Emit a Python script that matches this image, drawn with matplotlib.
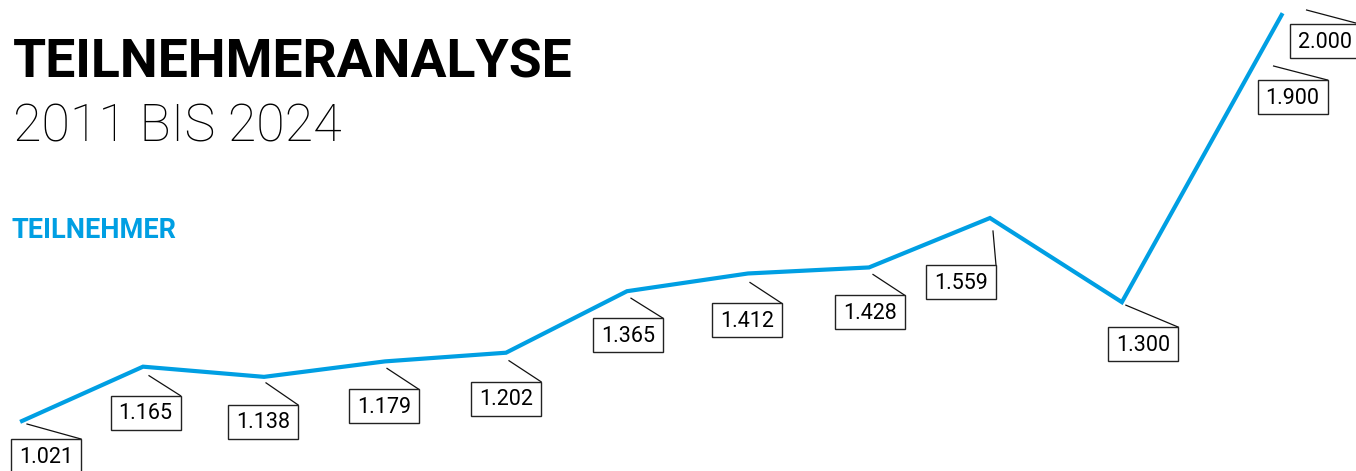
import matplotlib
matplotlib.use("Agg")
import matplotlib.pyplot as plt
import matplotlib.transforms as mtransforms
from matplotlib.patches import Rectangle

# data
x_pos = [0, 1, 2, 3, 4, 5, 6, 7, 8, 9.09, 10.41]
line_values = [1021, 1165, 1138, 1179, 1202, 1365, 1412, 1428, 1559, 1336, 2097]
label_texts = ["1.021", "1.165", "1.138", "1.179", "1.202", "1.365", "1.412",
               "1.428", "1.559", "1.300", "1.900", "2.000"]
label_point = [0, 1, 2, 3, 4, 5, 6, 7, 8, 9, 10, 10]

# label layout: leader start and box centre, pixel offsets from the point
leader_start = [(5, -3), (6, -9), (2, -6), (2, -7), (3, -8), (4, -7), (2, -9),
                (4, -7), (3, -13), (4, -3), (-8, -51), (25, 5)]
box_centre = [(24, -35), (2.5, -46), (-1, -45), (-1, -45), (0, -46), (1, -44),
              (-1, -47), (1, -45), (-29, -64), (21.5, -42), (11, -82), (43, -26)]
box_w, box_h = 70, 34

blue = "#009fe3"
W, H = 1356, 471

fig = plt.figure(figsize=(W / 100, H / 100), dpi=100)
ax = fig.add_axes([0, 0, 1, 1])
ax.set_xlim(-0.182, 11.025)
ax.set_ylim(888.5, 2136.8)
ax.axis("off")

ax.plot(x_pos, line_values, color=blue, lw=3, solid_joinstyle="miter", zorder=3)

ident = mtransforms.IdentityTransform()
for txt, idx, (lx, ly), (bx, by) in zip(label_texts, label_point, leader_start, box_centre):
    px, py = ax.transData.transform((x_pos[idx], line_values[idx]))
    cx, cy = px + bx, py + by
    ax.plot([px + lx, cx + box_w / 2], [py + ly, cy + box_h / 2],
            color="#111111", lw=0.9, transform=ident, zorder=2)
    ax.add_patch(Rectangle((cx - box_w / 2, cy - box_h / 2), box_w, box_h,
                           transform=ident, fc="white", ec="#222222", lw=1.0, zorder=4))
    ax.text(cx, cy - 1, txt, transform=ident, ha="center", va="center",
            fontsize=15.5, family="Roboto", fontweight="normal", color="black", zorder=5)

# titles
fig.text(13 / W, 1 - 78 / H, "TEILNEHMERANALYSE", fontsize=38.5, family="Roboto",
         fontweight="bold", color="black", va="baseline", ha="left")
fig.text(13 / W, 1 - 142 / H, "2011 BIS 2024", fontsize=37.5, family="Roboto",
         fontweight="light", color="black", va="baseline", ha="left")
fig.text(11 / W, 1 - 238 / H, "TEILNEHMER", fontsize=19.5, family="Roboto",
         fontweight="bold", color=blue, va="baseline", ha="left")

fig.savefig("out.png", dpi=100)
